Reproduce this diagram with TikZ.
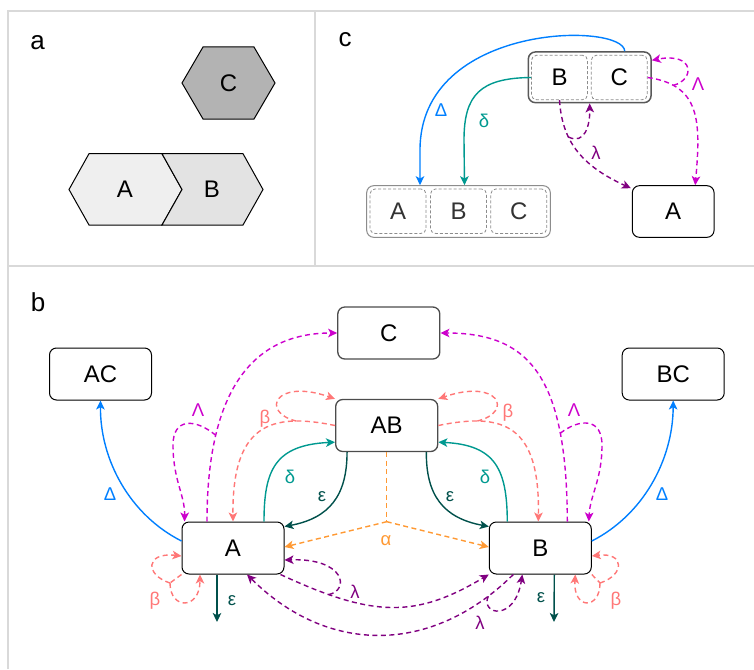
\documentclass[tikz,border=0pt]{standalone}
\usepackage{fontspec}
\setmainfont{Liberation Sans}
\usetikzlibrary{arrows.meta,calc}
\definecolor{cDelta}{HTML}{007FFF}
\definecolor{cdelta}{HTML}{009990}
\definecolor{ceps}{HTML}{00504B}
\definecolor{calpha}{HTML}{FF9933}
\definecolor{cbeta}{HTML}{FF7777}
\definecolor{cLam}{HTML}{CC00CC}
\definecolor{clam}{HTML}{800080}
\definecolor{framec}{HTML}{D9D9D9}
\definecolor{hexA}{HTML}{EFEFEF}
\definecolor{hexB}{HTML}{E3E3E3}
\definecolor{hexC}{HTML}{B3B3B3}
\begin{document}
\begin{tikzpicture}[x=1pt,y=-1pt,
  box/.style={draw=black,line width=1pt,rounded corners=7pt,fill=white,minimum width=102pt,minimum height=52pt,inner sep=0pt,font=\fontsize{24}{28}\selectfont},
  graybox/.style={box,draw=black!70,line width=1.3pt},
  inbox/.style={draw=black!45,line width=0.8pt,dash pattern=on 3pt off 2pt,rounded corners=5pt,minimum width=56pt,minimum height=44.4pt,inner sep=0pt,font=\fontsize{24}{28}\selectfont},
  conn/.style={line width=1.4pt,-{Stealth[length=9pt,width=8.5pt,inset=2.3pt]}},
  plain/.style={line width=1.4pt},
  dsh/.style={dash pattern=on 5pt off 3.5pt},
  lab/.style={font=\fontsize{18.5}{22}\selectfont,inner sep=0pt},
  panel/.style={font=\fontsize{26}{30}\selectfont,inner sep=0pt},
  framel/.style={draw=framec,line width=1.5pt},
  hexlab/.style={font=\fontsize{24}{28}\selectfont,inner sep=0pt},
  hexs/.style={draw=black,line width=1pt}
]
\useasboundingbox (0,0) rectangle (754,669);
% frames
\draw[framel] (8,669) -- (8,11) -- (754,11);
\draw[framel] (315,11) -- (315,266);
\draw[framel] (8,266) -- (754,266);

% ---------- panel a
\node[panel] (la) at (37.5,43) {a};
\filldraw[hexs,fill=hexC] (182,83) -- (203,47) -- (254,47) -- (275,83) -- (254,119) -- (203,119) -- cycle;
\filldraw[hexs,fill=hexA] (69,189.5) -- (89,153.7) -- (162,153.7) -- (182,189.5) -- (162,225) -- (89,225) -- cycle;
\filldraw[hexs,fill=hexB] (162,153.7) -- (243,153.7) -- (263,189.5) -- (243,225) -- (162,225) -- (182,189.5) -- cycle;
\node[hexlab] (hC) at (228.5,83) {C};
\node[hexlab] (hA) at (125,189.5) {A};
\node[hexlab] (hB) at (212,189.5) {B};

% ---------- panel c
\node[panel] (lc) at (345,40) {c};
\node[box,draw=black!65,line width=1.5pt,minimum width=122.7pt,minimum height=50.7pt] (BCo) at (589.7,77.3) {};
\node[inbox] (cB) at (559.5,77.5) {B};
\node[inbox] (cC) at (619.3,77.5) {C};
\node[box,draw=black!45,line width=1pt,minimum width=183.6pt,minimum height=51.6pt] (ABCo) at (458.5,211.5) {};
\node[inbox,text=black!80] (cA2) at (398,211.2) {A};
\node[inbox,text=black!80] (cB2) at (458.5,211.2) {B};
\node[inbox,text=black!80] (cC2) at (518.8,211.2) {C};
\node[box,minimum width=81.7pt,minimum height=51.6pt] (Ac) at (673.2,211.5) {A};

\draw[conn,cDelta] ($(BCo.north)+(35,0)$) .. controls (624,22) and (420,22) .. (420,150) -- ($(ABCo.north)+(-38.5,0)$);
\draw[conn,cdelta] (cB.west) .. controls (480,78) and (464,95) .. (464,140) -- ($(ABCo.north)+(6,0)$);
\draw[conn,clam,dsh] (cB.south) .. controls (562,140) and (580,165) .. ($(Ac.north west)+(-1,3)$) coordinate[pos=0.35] (jc1);
\draw[conn,clam,dsh] (jc1) .. controls (585,145) and (590,125) .. (BCo.south);
\draw[conn,cLam,dsh] (cC.east) .. controls (700,85) and (701,120) .. ($(Ac.north)+(22,0)$) coordinate[pos=0.2] (jc2);
\draw[conn,cLam,dsh] (jc2) .. controls (695,80) and (695,52) .. ($(BCo.east)+(0,-17)$);
\node[lab,text=cDelta] (lcD) at (441,110) {Δ};
\node[lab,text=cdelta] (lcd) at (484,121) {δ};
\node[lab,text=clam] (lcl) at (596,153) {λ};
\node[lab,text=cLam] (lcL) at (698,84) {Λ};

% ---------- panel b
\node[panel] (lb) at (38,302) {b};
\node[box] (A) at (233,548) {A};
\node[box] (B) at (540.3,548) {B};
\node[graybox] (AB) at (386.7,425.5) {AB};
\node[graybox] (Cb) at (388.8,333) {C};
\node[box] (AC) at (100.5,374) {AC};
\node[box] (BC) at (673.2,374) {BC};
\coordinate (ja) at (386.7,521.7);
\coordinate (epsA) at (217,622);
\coordinate (epsB) at (554,622);
\coordinate (jba) at (170,583);
\coordinate (jbb) at (600,583);

% Delta
\draw[conn,cDelta] ($(A.west)+(0,-7)$) .. controls (130,515) and (100,460) .. (AC.south);
\draw[conn,cDelta] ($(B.east)+(0,-7)$) .. controls (643,515) and (673,460) .. (BC.south);
% delta
\draw[conn,cdelta] ($(A.north)+(31,0)$) .. controls (264,470) and (275,445) .. ($(AB.south west)+(0,-10)$);
\draw[conn,cdelta] ($(B.north)+(-33,0)$) .. controls (507,470) and (496,445) .. ($(AB.south east)+(0,-10)$);
% epsilon
\draw[conn,ceps] ($(AB.south west)+(12,0)$) .. controls (347,495) and (330,518) .. ($(A.north east)+(0,5)$);
\draw[conn,ceps] ($(AB.south east)+(-12,0)$) .. controls (426,495) and (443,518) .. ($(B.north west)+(0,5)$);
\draw[conn,ceps] ($(A.south)+(-16,0)$) -- (epsA);
\draw[conn,ceps] ($(B.south)+(14,0)$) -- (epsB);
% alpha
\draw[plain,calpha,dsh] (AB.south) -- (ja);
\draw[conn,calpha,dsh] (ja) -- ($(A.east)+(0,-1)$);
\draw[conn,calpha,dsh] (ja) -- ($(B.west)+(0,-1)$);
% beta from AB
\draw[conn,cbeta,dsh] (AB.west) .. controls (270,412) and (232,425) .. (A.north) coordinate[pos=0.22] (jb1);
\draw[conn,cbeta,dsh] (jb1) .. controls (260,412) and (275,378) .. (AB.north west);
\draw[conn,cbeta,dsh] (AB.east) .. controls (504,412) and (540,425) .. ($(B.north)+(-2,0)$) coordinate[pos=0.22] (jb2);
\draw[conn,cbeta,dsh] (jb2) .. controls (514,412) and (499,378) .. (AB.north east);
% beta self loops
\draw[plain,cbeta,dsh] (A.south west) -- (jba);
\draw[conn,cbeta,dsh] (jba) .. controls (145,575) and (145,552) .. ($(A.west)+(0,8)$);
\draw[conn,cbeta,dsh] (jba) .. controls (170,610) and (200,610) .. ($(A.south)+(-33,0)$);
\draw[plain,cbeta,dsh] (B.south east) -- (jbb);
\draw[conn,cbeta,dsh] (jbb) .. controls (625,575) and (625,552) .. ($(B.east)+(0,8)$);
\draw[conn,cbeta,dsh] (jbb) .. controls (600,610) and (573,610) .. ($(B.south)+(35,0)$);
% Lambda
\draw[conn,cLam,dsh] ($(A.north)+(-26,0)$) .. controls (207,380) and (260,333) .. (Cb.west) coordinate[pos=0.24] (jL1);
\draw[conn,cLam,dsh] (jL1) .. controls (195,418) and (173,418) .. (173,445) .. controls (173,480) and (185,495) .. ($(A.north west)+(3,0)$);
\draw[conn,cLam,dsh] ($(B.north)+(27,0)$) .. controls (567,375) and (528,333) .. (Cb.east) coordinate[pos=0.24] (jL2);
\draw[conn,cLam,dsh] (jL2) .. controls (580,418) and (602,418) .. (602,445) .. controls (602,480) and (590,495) .. ($(B.north east)+(-3,0)$);
% lambda
\draw[conn,clam,dsh] ($(A.south east)+(-4,0)$) .. controls (374,618) and (416,618) .. (B.south west) coordinate[pos=0.19] (jl1);
\draw[conn,clam,dsh] (jl1) .. controls (350,590) and (345,558) .. ($(A.east)+(0,12)$);
\draw[conn,clam,dsh] ($(B.south)+(-27,0)$) .. controls (432,655) and (328,655) .. ($(A.south)+(14,0)$) coordinate[pos=0.1] (jl2);
\draw[conn,clam,dsh] (jl2) .. controls (480,615) and (515,622) .. ($(B.south)+(-18,0)$);

% labels
\node[lab,text=cDelta] (lDl) at (110,494) {Δ};
\node[lab,text=cDelta] (lDr) at (662,494) {Δ};
\node[lab,text=cLam] (lLl) at (198,410) {Λ};
\node[lab,text=cLam] (lLr) at (574,410) {Λ};
\node[lab,text=cbeta] (lbl) at (265,419) {β};
\node[lab,text=cbeta] (lbr) at (508,413) {β};
\node[lab,text=cdelta] (ldl) at (290,477) {δ};
\node[lab,text=cdelta] (ldr) at (485,477) {δ};
\node[lab,text=ceps] (lel) at (322,497) {ε};
\node[lab,text=ceps] (ler) at (450,497) {ε};
\node[lab,text=calpha] (lal) at (386,541) {α};
\node[lab,text=cbeta] (lba) at (155,601) {β};
\node[lab,text=cbeta] (lbb) at (616,601) {β};
\node[lab,text=ceps] (lea) at (232,601) {ε};
\node[lab,text=ceps] (leb) at (541,598) {ε};
\node[lab,text=clam] (lla) at (355,592) {λ};
\node[lab,text=clam] (llb) at (480,623) {λ};
\end{tikzpicture}
\end{document}
